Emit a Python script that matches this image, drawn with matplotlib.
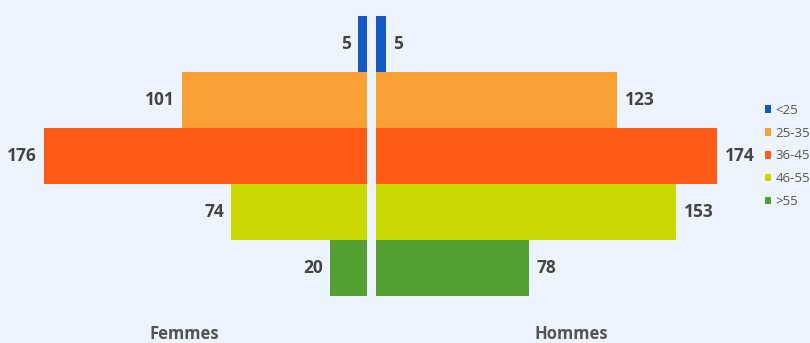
import matplotlib
matplotlib.use("Agg")
import matplotlib.pyplot as plt
from matplotlib.patches import Patch

categories = ["<25", "25-35", "36-45", "46-55", ">55"]
femmes = [5, 101, 176, 74, 20]
hommes = [5, 123, 174, 153, 78]
colors = ["#1458C6", "#FBA034", "#FF5A16", "#C8D800", "#55A033"]

bg = "#EEF4FD"
txt = "#444444"
plt.rcParams['font.family'] = ['Open Sans', 'DejaVu Sans']

fig = plt.figure(figsize=(8.1, 3.43), dpi=100, facecolor=bg)
W, H = 810, 343
top, bottom = 16, 296

axL = fig.add_axes([44 / W, (H - bottom) / H, (367 - 44) / W, (bottom - top) / H])
axR = fig.add_axes([376 / W, (H - bottom) / H, (717 - 376) / W, (bottom - top) / H])

n = len(categories)
ypos = list(range(n))
for ax, vals, side in ((axL, femmes, "L"), (axR, hommes, "R")):
    ax.set_facecolor(bg)
    ax.barh(ypos, vals, height=1.0, color=colors, edgecolor="none")
    ax.set_ylim(n - 0.5, -0.5)
    ax.set_xlim(0, max(vals))
    if side == "L":
        ax.invert_xaxis()
    for y, v in zip(ypos, vals):
        if side == "L":
            ax.annotate(str(v), (v, y), xytext=(-5, 0), textcoords="offset points",
                        ha="right", va="center", fontsize=12.5, fontweight="bold", color=txt)
        else:
            ax.annotate(str(v), (v, y), xytext=(5.5, 0), textcoords="offset points",
                        ha="left", va="center", fontsize=12.5, fontweight="bold", color=txt)
    ax.axis("off")

fig.text(184 / W, 1 - 334 / H, "Femmes", ha="center", va="center",
         fontsize=12, fontweight="bold", color="#555555")
fig.text(571 / W, 1 - 334 / H, "Hommes", ha="center", va="center",
         fontsize=12, fontweight="bold", color="#555555")

handles = [Patch(facecolor=c, edgecolor="none", label=l) for c, l in zip(colors, categories)]
fig.legend(handles=handles, loc="center left", bbox_to_anchor=(758 / W, 1 - 156 / H),
           frameon=False, fontsize=9.5, handlelength=0.5, handleheight=0.5,
           handletextpad=0.35, labelspacing=0.75, labelcolor="#555555", borderpad=0)

fig.savefig("out.png", dpi=100, facecolor=bg)
